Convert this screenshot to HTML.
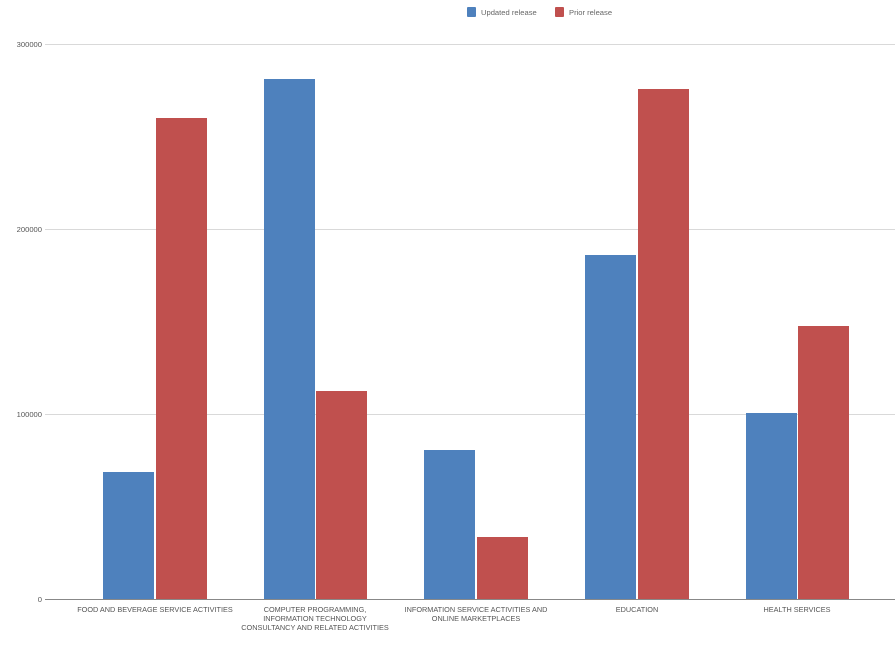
<!DOCTYPE html>
<html><head><style>body{margin:0;background:#fff}svg{display:block}</style></head>
<body>
<svg width="895" height="654" xmlns="http://www.w3.org/2000/svg" font-family="Liberation Sans, sans-serif" font-size="8" fill="#555">
<rect x="467" y="7" width="9" height="10" fill="#4e81bd" rx="1"/>
<text x="481" y="15" fill="#666" font-size="7.6">Updated release</text>
<rect x="555" y="7" width="9" height="10" fill="#c0504e" rx="1"/>
<text x="569" y="15" fill="#666" font-size="7.6">Prior release</text>
<g stroke="#d9d9d9" stroke-width="1">
<line x1="45" y1="44.5" x2="895" y2="44.5"/>
<line x1="45" y1="229.5" x2="895" y2="229.5"/>
<line x1="45" y1="414.5" x2="895" y2="414.5"/>
</g>
<g text-anchor="end" fill="#555" font-size="7.6">
<text x="42" y="47">300000</text>
<text x="42" y="232">200000</text>
<text x="42" y="417">100000</text>
<text x="42" y="602">0</text>
</g>
<g fill="#4e81bd">
<rect x="103" y="472" width="51" height="127"/>
<rect x="264" y="79" width="51" height="520"/>
<rect x="424" y="450" width="51" height="149"/>
<rect x="585" y="255" width="51" height="344"/>
<rect x="746" y="413" width="51" height="186"/>
</g>
<g fill="#c0504e">
<rect x="156" y="118" width="51" height="481"/>
<rect x="316" y="391" width="51" height="208"/>
<rect x="477" y="537" width="51" height="62"/>
<rect x="638" y="89" width="51" height="510"/>
<rect x="798" y="326" width="51" height="273"/>
</g>
<line x1="45" y1="599.5" x2="895" y2="599.5" stroke="#888" stroke-width="1"/>
<g text-anchor="middle" fill="#555" font-size="7.3">
<text x="155" y="612">FOOD AND BEVERAGE SERVICE ACTIVITIES</text>
<text x="315" y="612">COMPUTER PROGRAMMING,</text>
<text x="315" y="621">INFORMATION TECHNOLOGY</text>
<text x="315" y="630">CONSULTANCY AND RELATED ACTIVITIES</text>
<text x="476" y="612">INFORMATION SERVICE ACTIVITIES AND</text>
<text x="476" y="621">ONLINE MARKETPLACES</text>
<text x="637" y="612">EDUCATION</text>
<text x="797" y="612">HEALTH SERVICES</text>
</g>
</svg>
</body></html>
